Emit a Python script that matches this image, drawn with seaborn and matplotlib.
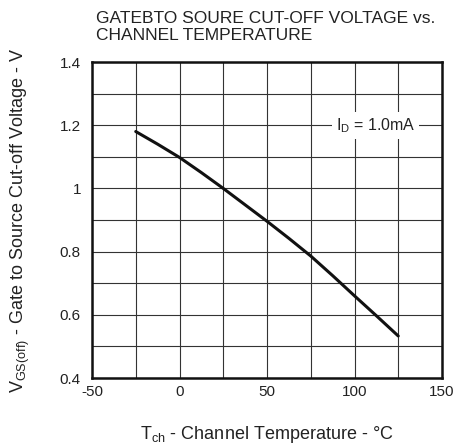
import matplotlib
matplotlib.use("Agg")
import matplotlib.pyplot as plt
import seaborn as sns
import pandas as pd

temperature = [-25, -12.5, 0, 12.5, 25, 37.5, 50, 62.5, 75, 87.5, 100, 112.5, 125]
vgs_off = [1.18, 1.14, 1.098, 1.05, 1.0, 0.948, 0.896, 0.842, 0.786, 0.724, 0.66, 0.597, 0.533]
x_ticks = [-50, 0, 50, 100, 150]
x_tick_labels = ["-50", "0", "50", "100", "150"]
y_ticks = [0.4, 0.6, 0.8, 1.0, 1.2, 1.4]
y_tick_labels = ["0.4", "0.6", "0.8", "1", "1.2", "1.4"]

sns.set_theme(style="white")
plt.rcParams['font.family'] = ['Liberation Sans', 'DejaVu Sans']
plt.rcParams['mathtext.fontset'] = 'custom'
plt.rcParams['mathtext.rm'] = 'Liberation Sans'
plt.rcParams['axes.unicode_minus'] = False

df = pd.DataFrame({"T": temperature, "V": vgs_off})

fig = plt.figure(figsize=(4.57, 4.46), dpi=100)
ax = fig.add_axes([92/457, 1-378/446, 350/457, 316/446])

sns.lineplot(data=df, x="T", y="V", ax=ax, color="#111111", linewidth=2.2)

ax.set_xlim(-50, 150)
ax.set_ylim(0.4, 1.4)
ax.set_xticks(x_ticks)
ax.set_xticklabels(x_tick_labels)
ax.set_xticks([-25, 25, 75, 125], minor=True)
ax.set_yticks(y_ticks)
ax.set_yticklabels(y_tick_labels)
ax.set_yticks([0.5, 0.7, 0.9, 1.1, 1.3], minor=True)
ax.grid(True, which="both", color="#333333", linewidth=0.8)
ax.tick_params(which="both", length=0, labelsize=11, colors="#222222")
ax.tick_params(axis="y", pad=8)
ax.tick_params(axis="x", pad=5)
for s in ax.spines.values():
    s.set_linewidth(1.8)
    s.set_color("#111111")

ax.set_xlabel(r"T$_{\mathregular{ch}}$ - Channel Temperature - °C", fontsize=13,
              color="#222222", labelpad=18)
ax.set_ylabel(r"V$_{\mathregular{GS(off)}}$ - Gate to Source Cut-off Voltage - V",
              fontsize=13, color="#222222", labelpad=20)

ax.text(112, 1.2, r"I$_{\mathregular{D}}$ = 1.0mA", fontsize=11.5, color="#222222",
        ha="center", va="center",
        bbox=dict(facecolor="white", edgecolor="none", pad=3))

fig.text(96/457, 1-27/446, "GATEBTO SOURE CUT-OFF VOLTAGE vs.\nCHANNEL TEMPERATURE",
         fontsize=12.5, color="#222222", ha="left", va="center", linespacing=1.2)

fig.savefig("out.png", dpi=100)
